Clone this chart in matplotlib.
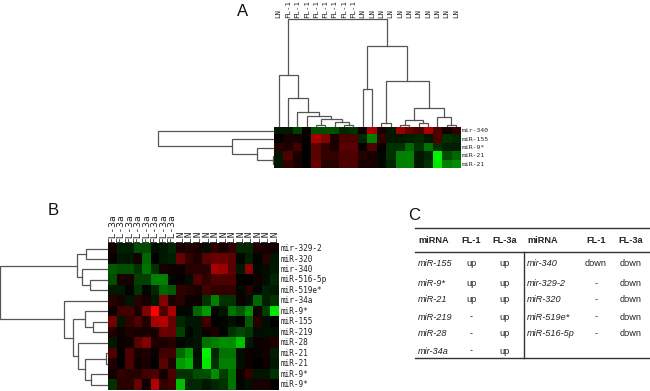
import numpy as np
import matplotlib
matplotlib.use('Agg')
import matplotlib.pyplot as plt
from matplotlib.colors import LinearSegmentedColormap

W, H = 650, 391

# panel A
a_cols = ['LN'] + ['FL-1'] * 8 + ['LN'] * 11
a_rows = ['mir-340', 'miR-155', 'miR-9*', 'miR-21', 'miR-21']
a_vals = [
    [-.1, -.1, -.25, 0, -.3, -.3, -.3, -.15, -.2, .05, .65, .1, -.1, .6, .4, .3, .65, .3, .08, .2],
    [.02, .1, .1, 0, .65, .5, .1, .3, .3, -.15, -.5, .2, -.1, -.1, -.12, -.15, -.08, .3, -.2, -.15],
    [.15, .12, .25, 0, .35, .2, .1, .35, .35, .03, .3, .02, -.2, -.2, -.4, -.2, -.45, -.2, -.12, -.12],
    [-.1, .3, .1, 0, .35, .2, .2, .3, .3, .15, .1, -.03, -.2, -.5, -.5, -.1, -.15, -.95, -.3, -.4],
    [-.1, .2, .1, 0, .4, .15, .15, .3, .3, .1, .1, -.03, -.15, -.5, -.5, -.1, -.2, -.9, -.5, -.55],
]
# merges: (child, child, height); ids past the leaf count are earlier merges
a_col_tree = [
    (4, 5, 1.5), (7, 8, 1.5), (6, 21, 4.7), (20, 22, 8), (3, 23, 10.3), (2, 24, 14.7),
    (1, 25, 28.7), (0, 26, 51),
    (9, 10, 37), (11, 12, 4), (13, 14, 1.5), (15, 16, 3.5), (30, 31, 7),
    (18, 19, 1.5), (17, 33, 10), (32, 34, 19), (29, 35, 45), (28, 36, 80.7),
    (27, 37, 107),
]
a_row_tree = [(3, 4, 1.3), (2, 5, 16.7), (1, 6, 41.7), (0, 7, 116.3)]

# panel B
b_cols = ['FL-3a'] * 8 + ['LN'] * 12
b_rows = ['mir-329-2', 'miR-320', 'mir-340', 'miR-516-5p', 'miR-519e*', 'mir-34a', 'miR-9*',
          'miR-155', 'miR-219', 'miR-28', 'miR-21', 'miR-21', 'miR-9*', 'miR-9*']
b_vals = [
    [.08, -.12, -.12, -.3, -.3, -.05, -.08, -.15, .1, .12, .1, -.05, .18, .1, .2, -.15, -.15, .12, .08, .08],
    [.02, -.1, -.08, .08, -.4, 0, -.1, -.12, .4, .2, .12, .35, .4, .4, .35, -.03, -.12, -.02, .15, -.08],
    [-.35, -.3, -.3, -.2, -.45, -.2, .1, .06, .05, .15, .15, .15, .65, .6, .35, -.1, .55, -.03, -.05, -.1],
    [-.3, .1, .1, -.25, -.25, -.5, -.5, -.03, .03, -.05, .3, .2, .3, .3, .3, 0, 0, .06, -.05, -.15],
    [-.1, -.1, -.02, -.2, -.02, -.15, -.4, -.35, .2, .15, .1, .25, .2, .2, .2, -.03, .15, -.02, -.12, -.1],
    [.15, .1, -.08, .15, .1, -.1, .5, .1, .15, .05, .05, -.2, -.5, -.2, -.2, .06, -.05, -.4, -.12, -.2],
    [.06, .25, .25, .1, .5, 1., .3, .65, -.03, -.03, -.4, -.6, -.02, -.08, -.45, -.35, -.55, .06, -.25, -.9],
    [.45, -.08, .2, .3, .12, .65, .7, .4, -.15, -.08, -.08, .25, 0, -.02, -.06, .02, -.35, .15, -.05, 0],
    [.12, .05, .12, .1, .1, .1, .4, .4, -.25, -.02, -.08, .05, .12, -.02, -.2, -.28, -.22, -.05, -.06, -.05],
    [-.1, .04, .06, .35, .5, .12, .1, .15, -.03, -.06, -.08, -.45, -.5, -.55, -.55, -.75, -.1, .05, .06, .12],
    [.3, .02, .3, .1, .12, .04, .25, .25, -.4, -.6, -.05, -.95, -.15, -.45, -.45, -.05, .06, -.02, .08, -.12],
    [.12, 0, .3, .06, .1, 0, .35, .12, -.6, -.7, -.08, -.9, -.2, -.5, -.5, -.06, .05, 0, .06, -.1],
    [.08, .2, .15, .15, .25, .3, .08, .3, -.2, -.2, -.3, -.3, -.55, -.25, -.45, .06, .2, -.08, -.08, -.2],
    [-.2, .15, .15, .4, .06, .7, .2, .25, -.75, -.15, -.15, -.1, -.15, -.2, -.45, -.02, -.05, .1, .1, 0],
]
b_row_tree = [
    (0, 1, 22), (3, 4, 17.7), (2, 15, 26), (14, 16, 30.3),
    (7, 8, 15), (6, 18, 22.7), (10, 11, 1.7), (12, 13, 17), (20, 21, 22.7),
    (9, 22, 30), (19, 23, 35), (5, 24, 43.3), (17, 25, 107.7),
]

# panel C
c_left_head = ['miRNA', 'FL-1', 'FL-3a']
c_left = [['miR-155', 'up', 'up'], ['miR-9*', 'up', 'up'], ['miR-21', 'up', 'up'],
          ['miR-219', '-', 'up'], ['miR-28', '-', 'up'], ['mir-34a', '-', 'up']]
c_right_head = ['miRNA', 'FL-1', 'FL-3a']
c_right = [['mir-340', 'down', 'down'], ['mir-329-2', '-', 'down'], ['miR-320', '-', 'down'],
           ['miR-519e*', '-', 'down'], ['miR-516-5p', '-', 'down']]
c_row_y = [264, 284, 300, 317, 334, 351]

cmap = LinearSegmentedColormap.from_list('rg', ['#00ff00', '#000000', '#ff0000'])
line_col = '#555555'
label_col = '#222222'

fig = plt.figure(figsize=(W / 100, H / 100), dpi=100)


def px_axes(x0, y0, x1, y1):
    # pixel box, y counted from the top of the picture
    ax = fig.add_axes([x0 / W, 1 - y1 / H, (x1 - x0) / W, (y1 - y0) / H])
    ax.axis('off')
    return ax


def draw_tree(ax, merges, n_leaves, vertical):
    pos = list(np.arange(n_leaves, dtype=float))
    hts = [0.0] * n_leaves
    for a, b, h in merges:
        xs = [pos[a], pos[a], pos[b], pos[b]]
        ys = [hts[a], h, h, hts[b]]
        if vertical:
            ax.plot(xs, ys, color=line_col, lw=0.9, solid_joinstyle='miter')
        else:
            ax.plot(ys, xs, color=line_col, lw=0.9, solid_joinstyle='miter')
        pos.append((pos[a] + pos[b]) / 2)
        hts.append(h)


def heatmap(box, vals, cols, rows, col_size, row_size, col_bottom, row_gap):
    ax = px_axes(*box)
    ax.imshow(np.array(vals), cmap=cmap, vmin=-1, vmax=1, aspect='auto', interpolation='nearest')
    x0, y0, x1, y1 = box
    cw = (x1 - x0) / len(cols)
    rh = (y1 - y0) / len(rows)
    for i, c in enumerate(cols):
        fig.text((x0 + cw * (i + .5)) / W, 1 - col_bottom / H, c, rotation=90, ha='center', va='bottom',
                 family='DejaVu Sans Mono', fontsize=col_size, color=label_col)
    for i, r in enumerate(rows):
        fig.text((x1 + row_gap) / W, 1 - (y0 + rh * (i + .5)) / H, r, ha='left', va='center',
                 family='DejaVu Sans Mono', fontsize=row_size, color=label_col)


# A
a_box = (274, 126.5, 460.5, 168.5)
heatmap(a_box, a_vals, a_cols, a_rows, 5.3, 4.6, 17.5, 1.5)
ax = px_axes(a_box[0], 18, a_box[2], a_box[1])
ax.set_xlim(-.5, 19.5)
ax.set_ylim(0, a_box[1] - 18)
draw_tree(ax, a_col_tree, 20, True)
ax = px_axes(157, a_box[1], a_box[0], a_box[3])
ax.set_xlim(a_box[0] - 157, 0)
ax.set_ylim(4.5, -.5)
draw_tree(ax, a_row_tree, 5, False)

# B
b_box = (107.7, 243.3, 278.7, 390)
heatmap(b_box, b_vals, b_cols, b_rows, 6.8, 5.6, 241.5, 2)
ax = px_axes(0, b_box[1], b_box[0], b_box[3])
ax.set_xlim(b_box[0], 0)
ax.set_ylim(13.5, -.5)
draw_tree(ax, b_row_tree, 14, False)

# C
plain = 'Liberation Sans'
ink = '#222222'


def put(x, y, s, **kw):
    fig.text(x / W, 1 - y / H, s, family=plain, fontsize=6.6, color=ink, va='center', **kw)


for x, s in zip([418, 471.5, 505], c_left_head):
    put(x, 241, s, weight='bold', ha='center' if x > 420 else 'left')
for x, s in zip([527, 596, 631], c_right_head):
    put(x, 241, s, weight='bold', ha='center' if x > 530 else 'left')
for y, row in zip(c_row_y, c_left):
    put(418, y, row[0], style='italic')
    put(471.5, y, row[1], ha='center')
    put(505, y, row[2], ha='center')
for y, row in zip(c_row_y, c_right):
    put(527, y, row[0], style='italic')
    put(596, y, row[1], ha='center')
    put(631, y, row[2], ha='center')

tab = px_axes(0, 0, W, H)
tab.set_xlim(0, W)
tab.set_ylim(H, 0)
tab.plot([415, 650], [227.5, 227.5], color='#333333', lw=1)
tab.plot([415, 650], [252, 252], color='#333333', lw=1)
tab.plot([415, 650], [358, 358], color='#333333', lw=1)
tab.plot([524, 524], [252, 358], color='#333333', lw=1)

# panel letters
for x, y, s in [(242.5, 11, 'A'), (53, 211, 'B'), (414.5, 215, 'C')]:
    fig.text(x / W, 1 - y / H, s, family=plain, fontsize=12, ha='center', va='center', color='#111111')

fig.savefig('out.png', dpi=100)
